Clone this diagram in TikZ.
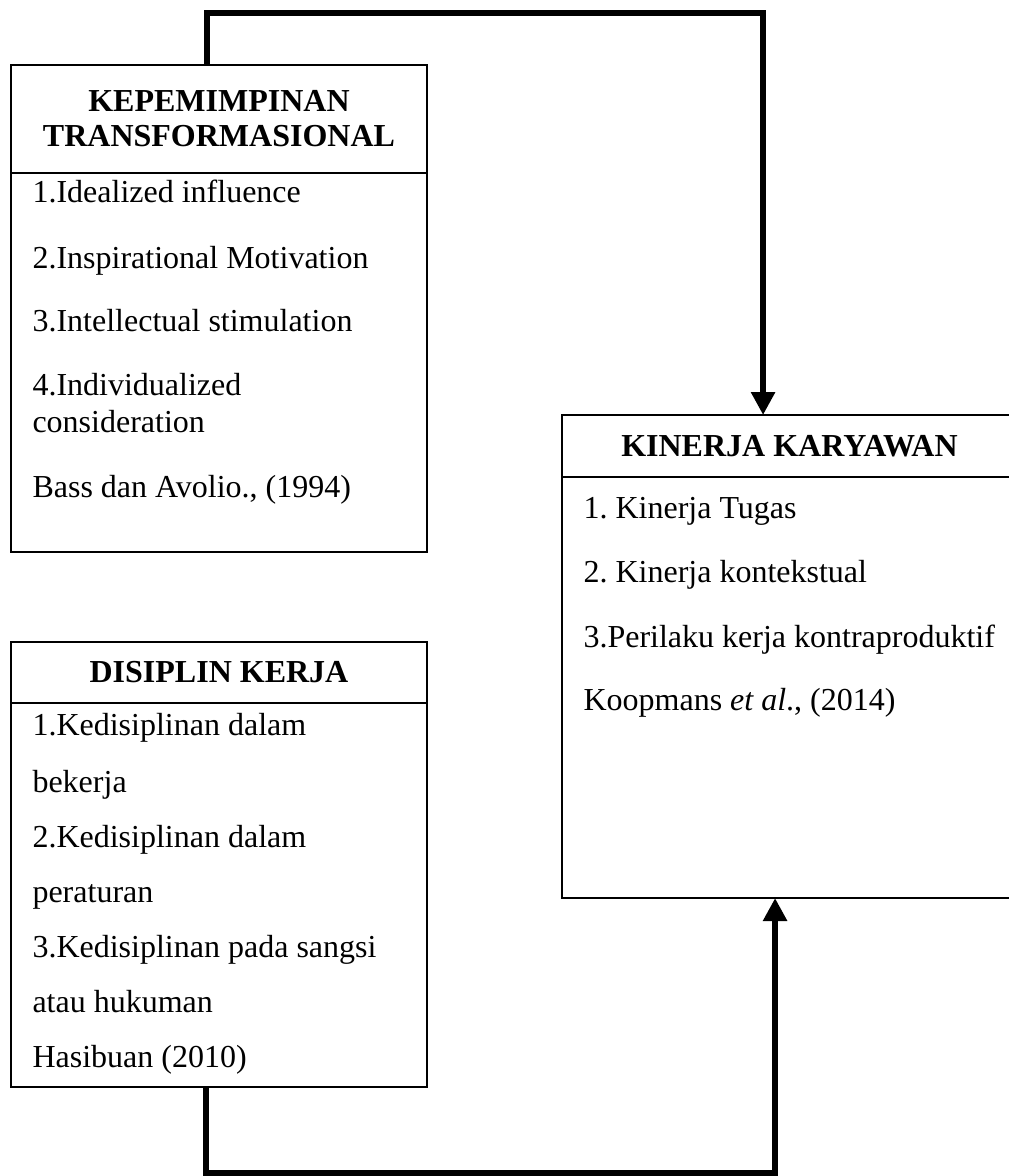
\documentclass[tikz,border=0pt]{standalone}
\usepackage{fontspec}
\setmainfont{Liberation Serif}
\usetikzlibrary{positioning,arrows.meta}
\frenchspacing
\tikzset{
  frame/.style={draw, line width=0.7pt, rectangle, inner sep=0pt, outer sep=0pt},
  head/.style={frame, font=\fontsize{12}{13.1}\selectfont\bfseries, align=center},
  itm/.style={anchor=base west, inner sep=0pt, font=\fontsize{12}{14}\selectfont},
  link/.style={line width=2.25pt, -{Triangle[length=8.6pt,width=8.6pt]}}
}
\newcommand{\itm}[4]{\node[itm] (#1) at (#2,#3) {#4};}

\begin{document}
\begin{tikzpicture}[x=0.375pt,y=-0.375pt]
  \useasboundingbox (0,0) rectangle (1008,1176);
  % kepemimpinan transformasional
  \node[head, anchor=north west, minimum width=156pt, minimum height=40.5pt] (kthead) at (11,65) {KEPEMIMPINAN\\TRANSFORMASIONAL};
  \node[frame, below=0pt of kthead, minimum width=156pt, minimum height=142.1pt] (ktbody) {};
  \itm{kt1}{32}{203}{1.Idealized influence}
  \itm{kt2}{32}{268}{2.Inspirational Motivation}
  \itm{kt3}{32}{332}{3.Intellectual stimulation}
  \itm{kt4}{32}{395}{4.Individualized}
  \itm{kt4b}{32}{432}{consideration}
  \itm{ktref}{32}{497}{Bass dan Avolio., (1994)}
  % disiplin kerja
  \node[head, anchor=north west, minimum width=156pt, minimum height=22.9pt] (dkhead) at (11,642) {DISIPLIN KERJA};
  \node[frame, below=0pt of dkhead, minimum width=156pt, minimum height=144pt] (dkbody) {};
  \itm{dk1}{32}{735}{1.Kedisiplinan dalam}
  \itm{dk1b}{32}{792}{bekerja}
  \itm{dk2}{32}{847}{2.Kedisiplinan dalam}
  \itm{dk2b}{32}{902}{peraturan}
  \itm{dk3}{32}{957}{3.Kedisiplinan pada sangsi}
  \itm{dk3b}{32}{1012}{atau hukuman}
  \itm{dkref}{32}{1067}{Hasibuan (2010)}
  % kinerja karyawan
  \node[head, anchor=north west, minimum width=170.6pt, minimum height=23.25pt] (kkhead) at (562,415) {KINERJA KARYAWAN};
  \node[frame, below=0pt of kkhead, minimum width=170.6pt, minimum height=157.9pt] (kkbody) {};
  \itm{kk1}{583}{518}{1. Kinerja Tugas}
  \itm{kk2}{583}{582}{2. Kinerja kontekstual}
  \itm{kk3}{583}{647}{3.Perilaku kerja kontraproduktif}
  \itm{kkref}{583}{710}{Koopmans \textit{et al}., (2014)}
  % arrows
  \draw[link] ([xshift=-4.5pt]kthead.north) -- ++(0,-52) -| ([xshift=-9.9pt]kkhead.north);
  \draw[link] ([xshift=-4.9pt]dkbody.south) -- ++(0,86) -| ([xshift=-5.4pt]kkbody.south);
\end{tikzpicture}
\end{document}
